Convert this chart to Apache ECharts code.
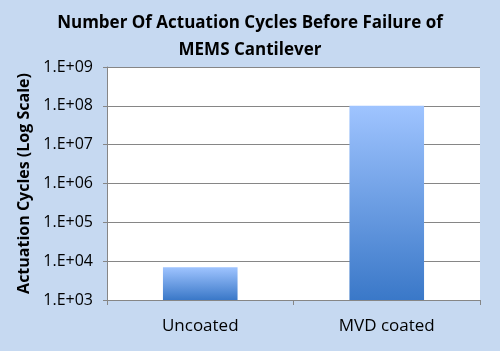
<!DOCTYPE html>
<html>
<head>
<meta charset="utf-8">
<script src="https://cdn.jsdelivr.net/npm/echarts@6/dist/echarts.min.js"></script>
<style>
html,body{margin:0;padding:0;background:#c6d9f1;}
#chart{width:500px;height:351px;}
</style>
</head>
<body>
<div id="chart"></div>
<script>
var categories=['Uncoated','MVD coated'];
var cycles=[7000,100000000];
var yMin=1000, yMax=1000000000;

window.onload=function(){
    var myChart=echarts.init(document.getElementById('chart'));

    var option={
        backgroundColor:'#c6d9f1',
        title:{
            text:'Number Of Actuation Cycles Before Failure of\nMEMS Cantilever',
            left:'center',
            top:5,
            textStyle:{fontFamily:'Open Sans',fontWeight:'bold',fontSize:17,color:'#000',lineHeight:27}
        },
        grid:{left:107,right:20,top:67,bottom:51,containLabel:false,outerBoundsMode:'none'},
        xAxis:{
            type:'category',
            data:categories,
            axisLine:{lineStyle:{color:'#868686'}},
            axisTick:{show:true,length:5,lineStyle:{color:'#868686'}},
            axisLabel:{color:'#000',fontFamily:'Open Sans',fontSize:17,margin:18}
        },
        yAxis:{
            type:'log',
            logBase:10,
            min:yMin,
            max:yMax,
            name:'Actuation Cycles (Log Scale)',
            nameLocation:'middle',
            nameGap:72,
            nameTextStyle:{fontFamily:'Open Sans',fontWeight:'bold',fontSize:16,color:'#000'},
            axisLine:{show:true,lineStyle:{color:'#868686'}},
            axisTick:{show:true,length:4,lineStyle:{color:'#868686'}},
            splitLine:{lineStyle:{color:'#868686',width:1}},
            axisLabel:{
                color:'#000',fontFamily:'Open Sans',fontSize:16,margin:14,
                formatter:function(v){
                    var e=Math.round(Math.log10(v));
                    return '1.E+'+(e<10?'0'+e:e);
                }
            }
        },
        series:[{
            type:'bar',
            data:cycles,
            barWidth:'40%',
            itemStyle:{
                color:new echarts.graphic.LinearGradient(0,0,0,1,[
                    {offset:0,color:'#9fc4ff'},
                    {offset:1,color:'#3a78c8'}
                ])
            }
        }]
    };

    myChart.setOption(option);

    // white plot area behind the bars
    var rect=myChart.getModel().getComponent('grid').coordinateSystem.getRect();
    myChart.setOption({
        graphic:[{
            type:'rect',
            z:-10,
            shape:{x:rect.x,y:rect.y,width:rect.width,height:rect.height},
            style:{fill:'#fff'}
        }]
    });
}
</script>
</body>
</html>
